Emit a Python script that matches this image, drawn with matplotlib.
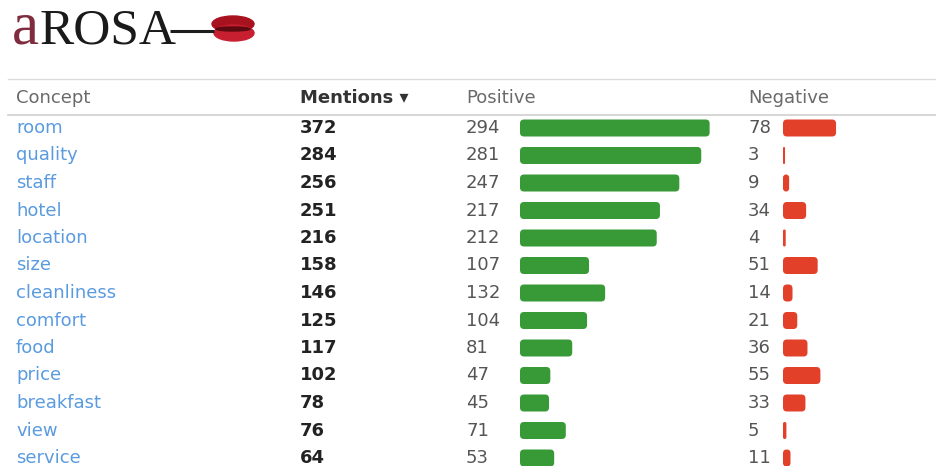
import matplotlib.pyplot as plt
from matplotlib.patches import FancyBboxPatch, Ellipse

concepts = ["room", "quality", "staff", "hotel", "location", "size", "cleanliness",
            "comfort", "food", "price", "breakfast", "view", "service"]
mentions = [372, 284, 256, 251, 216, 158, 146, 125, 117, 102, 78, 76, 64]
positive = [294, 281, 247, 217, 212, 107, 132, 104, 81, 47, 45, 71, 53]
negative = [78, 3, 9, 34, 4, 51, 14, 21, 36, 55, 33, 5, 11]
headers = ["Concept", "Mentions \u25be", "Positive", "Negative"]

W, H = 936, 466
ROW0, ROW_STEP = 128, 27.5
POS_X, NEG_X = 520, 783
POS_SCALE, NEG_SCALE = 0.645, 0.68
FS = 13

plt.rcParams["font.family"] = ["DejaVu Sans"]

fig = plt.figure(figsize=(W / 100, H / 100), dpi=100)
ax = fig.add_axes([0, 0, 1, 1])
ax.set_xlim(0, W)
ax.set_ylim(H, 0)
ax.axis("off")

# logo: wordmark, stem and lips
ax.text(12, 43, "a", fontsize=44, family="Liberation Serif", color="#7e2c3e", va="baseline")
ax.text(40, 43, "ROSA", fontsize=37, family="Liberation Serif", color="#1a1a1a", va="baseline")
ax.plot([170, 214], [31, 31], color="#1e1e1e", lw=2.2, solid_capstyle="butt")
ax.add_patch(Ellipse((233, 24), 42, 16, color="#a8121f"))
ax.add_patch(Ellipse((234, 33), 40, 16, color="#c81f30"))
ax.add_patch(Ellipse((233, 29), 34, 4, color="#5e0810"))

# table rules
ax.plot([8, W], [79, 79], color="#dcdcdc", lw=1)
ax.plot([8, W], [115, 115], color="#d0d0d0", lw=1.2)

head_x = [16, 300, 466, 748]
for x, h in zip(head_x, headers):
    bold = h.startswith("Mentions")
    ax.text(x, 98, h, fontsize=FS, color="#333333" if bold else "#6a6a6a",
            fontweight="bold" if bold else "normal", va="center")

ys = [ROW0 + i * ROW_STEP for i in range(len(concepts))]

for y, c, m, p, n in zip(ys, concepts, mentions, positive, negative):
    ax.text(16, y, c, fontsize=FS, color="#5a9be0", va="center")
    ax.text(300, y, str(m), fontsize=FS, color="#222222", fontweight="bold", va="center")
    ax.text(466, y, str(p), fontsize=FS, color="#555555", va="center")
    ax.text(748, y, str(n), fontsize=FS, color="#555555", va="center")

pos_bars = ax.barh(ys, [v * POS_SCALE for v in positive], left=POS_X, height=17)
neg_bars = ax.barh(ys, [v * NEG_SCALE for v in negative], left=NEG_X, height=17)


def round_bars(bars, color):
    for b in bars:
        x, y = b.get_x(), b.get_y()
        w, h = b.get_width(), b.get_height()
        b.remove()
        r = min(4, w / 2)
        ax.add_patch(FancyBboxPatch((x, y), w, h, boxstyle=f"round,pad=0,rounding_size={r}",
                                    facecolor=color, edgecolor="none"))


round_bars(pos_bars, "#379a37")
round_bars(neg_bars, "#e3402a")

fig.savefig("out.png", dpi=100)
